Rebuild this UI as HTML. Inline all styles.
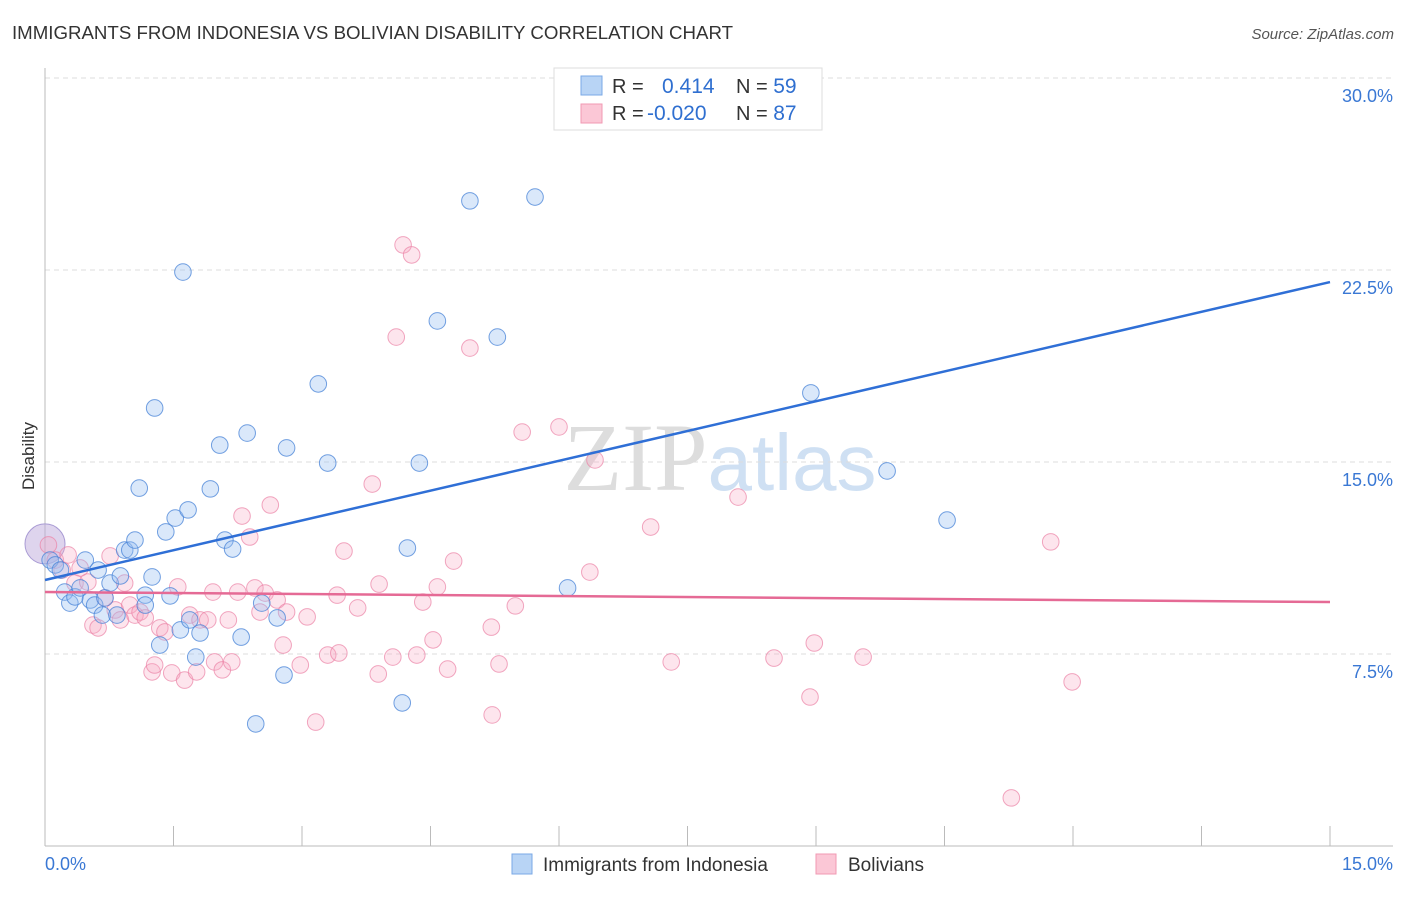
<!DOCTYPE html>
<html><head><meta charset="utf-8"><style>
body{margin:0;background:#fff;font-family:"Liberation Sans",sans-serif}
</style></head><body>
<svg id="c" width="1406" height="892" xmlns="http://www.w3.org/2000/svg">
<text x="12" y="39" font-size="18.5" fill="#333" textLength="721" lengthAdjust="spacingAndGlyphs">IMMIGRANTS FROM INDONESIA VS BOLIVIAN DISABILITY CORRELATION CHART</text>
<text x="1394" y="39" font-size="15" fill="#555" font-style="italic" text-anchor="end">Source: ZipAtlas.com</text>
<text x="34" y="456" font-size="17" fill="#333" text-anchor="middle" transform="rotate(-90 34 456)">Disability</text>
<text x="720" y="490" font-size="96" fill="#ddd" text-anchor="middle" font-family="Liberation Serif">ZIP<tspan fill="#cfe0f3" font-family="Liberation Sans" font-size="80">atlas</tspan></text>
<g id="grid"></g><g id="pts"></g><g id="lines"></g>
<g>
<rect x="554" y="68" width="268" height="62" fill="#fff" stroke="#ddd"/>
<rect x="581" y="76" width="21" height="19" fill="#b8d4f5" stroke="#7aa8e6"/>
<rect x="581" y="104" width="21" height="19" fill="#fbc7d6" stroke="#f09ab3"/>
<text x="612" y="93" font-size="20" fill="#333">R = <tspan x="662" fill="#2f6fd0" font-size="21">0.414</tspan><tspan x="736" fill="#333">N = </tspan><tspan fill="#2f6fd0" font-size="21">59</tspan></text>
<text x="612" y="120" font-size="20" fill="#333">R = <tspan x="647" fill="#2f6fd0" font-size="21">-0.020</tspan><tspan x="736" fill="#333">N = </tspan><tspan fill="#2f6fd0" font-size="21">87</tspan></text>
</g>
<g>
<rect x="512" y="854" width="20" height="20" fill="#b8d4f5" stroke="#7aa8e6"/>
<text x="543" y="871" font-size="19" fill="#333">Immigrants from Indonesia</text>
<rect x="816" y="854" width="20" height="20" fill="#fbc7d6" stroke="#f09ab3"/>
<text x="848" y="871" font-size="19" fill="#333">Bolivians</text>
</g>
</svg>
<script>
const xTicks=[0,15];
const yTicks=[7.5,15,22.5,30];
const blueX=[.06,.12,.18,.23,.29,.35,.41,.47,.53,.58,.62,.67,.70,.76,.84,.88,.93,.99,1.05,1.10,1.17,1.17,1.25,1.28,1.34,1.41,1.46,1.52,1.58,1.61,1.67,1.69,1.76,1.81,1.93,2.04,2.10,2.19,2.29,2.36,2.46,2.53,2.71,2.79,2.82,3.19,3.30,4.17,4.23,4.37,4.58,4.96,5.28,5.72,6.10,8.94,9.83,10.53];
const blueY=[11.17,10.98,10.78,9.92,9.49,9.73,10.08,11.17,9.61,9.41,10.78,9.02,9.69,10.27,9.02,10.55,11.56,11.56,11.95,13.98,9.80,9.41,10.51,17.11,7.85,12.27,9.77,12.81,8.44,22.42,13.13,8.83,7.38,8.32,13.95,15.66,11.95,11.60,8.16,16.13,4.77,9.49,8.91,6.68,15.55,18.05,14.96,5.59,11.64,14.96,20.51,25.20,19.88,25.35,10.08,17.70,14.65,12.73];
const pinkX=[.04,.12,.20,.27,.35,.41,.50,.56,.62,.70,.76,.82,.88,.93,.99,1.05,1.11,1.17,1.25,1.28,1.34,1.40,1.48,1.55,1.63,1.69,1.77,1.81,1.90,1.96,1.98,2.07,2.14,2.18,2.25,2.30,2.39,2.45,2.51,2.57,2.63,2.71,2.78,2.82,2.98,3.06,3.16,3.30,3.41,3.43,3.49,3.65,3.82,3.89,3.90,4.06,4.10,4.18,4.28,4.34,4.41,4.53,4.58,4.70,4.77,4.96,5.21,5.22,5.30,5.49,5.57,6.00,6.36,6.42,7.07,7.31,8.09,8.51,8.93,8.98,9.55,11.28,11.74,11.99];
const pinkY=[11.76,11.17,10.78,11.37,10.27,10.86,10.31,8.63,8.52,9.69,11.33,9.22,8.83,10.27,9.41,9.02,9.14,8.91,6.80,7.07,8.52,8.36,6.76,10.12,6.48,9.02,6.80,8.83,8.83,9.92,7.19,6.88,8.83,7.19,9.92,12.89,12.07,10.08,9.14,9.88,13.32,9.61,7.85,9.14,7.07,8.95,4.84,7.46,9.80,7.54,11.52,9.30,14.14,6.72,10.23,7.38,19.88,23.48,23.09,7.46,9.53,8.05,10.12,6.91,11.13,19.45,8.55,5.12,7.11,9.38,16.17,16.37,10.70,15.08,12.46,7.19,13.63,7.34,5.82,7.93,7.38,1.88,11.88,6.41];
const blueLine=[10.39,22.03];
const pinkLine=[9.92,9.53];
const X=v=>45+v/15*1285, Y=v=>846-v/7.5*192;
const NS='http://www.w3.org/2000/svg';
function mk(p,t,a){const e=document.createElementNS(NS,t);for(const k in a)e.setAttribute(k,a[k]);p.appendChild(e);return e;}
const g=document.getElementById('grid');
yTicks.forEach(v=>{
 const l=mk(g,'line',{x1:45,x2:1393,y1:Y(v),y2:Y(v),stroke:'#ddd','stroke-dasharray':'5,4'});
 
 
 const t=mk(g,'text',{x:1393,y:Y(v)+24,'font-size':18,fill:'#3a78d4','text-anchor':'end'});t.textContent=v.toFixed(1)+'%';
 
 
});
mk(g,'line',{x1:45,x2:45,y1:68,y2:846,stroke:'#bbb'});
mk(g,'line',{x1:45,x2:1393,y1:846,y2:846,stroke:'#bbb'});
for(let i=0;i<=10;i++){const x=X(i*1.5);const l=mk(g,'line',{x1:x,x2:x,y1:826,y2:846,stroke:'#bbb'});
 
 }
[[0,'start',45],[15,'end',1393]].forEach(([v,a,x])=>{const t=mk(g,'text',{x:x,y:870,'font-size':18,fill:'#3a78d4','text-anchor':a});t.textContent=v.toFixed(1)+'%';
 
 });
const p=document.getElementById('pts');
const big=mk(p,'circle',{cx:X(0),cy:Y(11.8),r:20,fill:'rgba(190,170,220,0.5)',stroke:'#a99bd4'});


pinkX.forEach((v,i)=>{const c=mk(p,'circle',{cx:X(v),cy:Y(pinkY[i]),r:8.3,fill:'rgba(248,170,195,0.3)',stroke:'rgba(235,130,165,0.7)'});
 
 });
blueX.forEach((v,i)=>{const c=mk(p,'circle',{cx:X(v),cy:Y(blueY[i]),r:8.3,fill:'rgba(150,190,240,0.35)',stroke:'rgba(70,130,215,0.75)'});
 
 });
const L=document.getElementById('lines');
const bl=mk(L,'line',{x1:X(0),y1:Y(blueLine[0]),x2:X(15),y2:Y(blueLine[1]),stroke:'#2f6fd6','stroke-width':2.5});


const pl=mk(L,'line',{x1:X(0),y1:Y(pinkLine[0]),x2:X(15),y2:Y(pinkLine[1]),stroke:'#e56a95','stroke-width':2.5});


</script>
</body></html>
